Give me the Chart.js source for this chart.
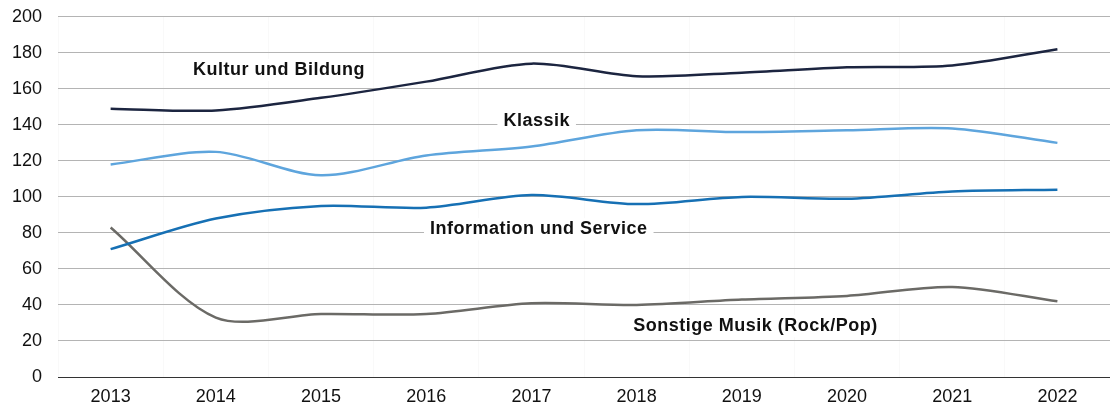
<!DOCTYPE html>
<html>
<head>
<meta charset="utf-8">
<script src="https://cdn.jsdelivr.net/npm/chart.js@4/dist/chart.umd.min.js"></script>
<style>
  html, body { margin: 0; padding: 0; background: #fff; }
  #wrap { width: 1110px; height: 408px; position: relative; overflow: hidden; }
  #inner { position: absolute; left: 0; top: -10px; width: 1110px; height: 418px; }
</style>
</head>
<body>
<div id="wrap"><div id="inner"><canvas id="myChart"></canvas></div></div>
<script>
const years = ['2013', '2014', '2015', '2016', '2017', '2018', '2019', '2020', '2021', '2022'];

const kulturBildung = [149, 148, 155, 164, 174, 167, 169, 172, 173, 182];
const klassik = [118, 125, 112, 123, 128, 137, 136, 137, 138, 130];
const infoService = [71, 88, 95, 94, 101, 96, 100, 99, 103, 104];
const sonstigeMusik = [83, 33, 35, 35, 41, 40, 43, 45, 50, 42];

const seriesNames = ['Kultur und Bildung', 'Klassik', 'Information und Service', 'Sonstige Musik (Rock/Pop)'];
const yTicks = [0, 20, 40, 60, 80, 100, 120, 140, 160, 180, 200];

// where the inline labels sit, in axis units (category index, value)
const labelAnchors = [
    { x: 1.6, y: 170.5 },
    { x: 4.05, y: 142.3 },
    { x: 4.07, y: 82 },
    { x: 6.13, y: 28.3 },
];

const colors = ['#1c2540', '#5ea5dd', '#1670b4', '#6b6a66'];
const fontFamily = '"Liberation Sans", Arial, sans-serif';

const inlineLabels = {
    id: 'inlineLabels',
    afterDatasetsDraw(chart) {
        const { ctx, scales } = chart;
        ctx.save();
        ctx.letterSpacing = '0.5px';
        ctx.font = 'bold 18px ' + fontFamily;
        ctx.textAlign = 'center';
        ctx.textBaseline = 'middle';
        seriesNames.forEach((name, i) => {
            const px = scales.x.getPixelForValue(labelAnchors[i].x);
            const py = scales.y.getPixelForValue(labelAnchors[i].y);
            const w = ctx.measureText(name).width;
            ctx.fillStyle = '#fff';
            ctx.fillRect(px - w / 2 - 6, py - 11, w + 12, 22);
            ctx.fillStyle = '#111';
            ctx.fillText(name, px, py);
        });
        ctx.restore();
    }
};

const data = {
    labels: years,
    datasets: [
        { label: seriesNames[0], data: kulturBildung, borderColor: colors[0] },
        { label: seriesNames[1], data: klassik, borderColor: colors[1] },
        { label: seriesNames[2], data: infoService, borderColor: colors[2] },
        { label: seriesNames[3], data: sonstigeMusik, borderColor: colors[3] },
    ].map(d => Object.assign(d, {
        borderWidth: 2.5,
        tension: 0.3,
        pointRadius: 0,
        fill: false,
    })),
};

const options = {
    responsive: true,
    maintainAspectRatio: false,
    animation: false,
    layout: { padding: { top: 0, right: 0, left: -4, bottom: 0 } },
    plugins: {
        legend: { display: false },
        tooltip: { enabled: false },
    },
    scales: {
        x: {
            offset: true,
            afterFit(axis) {
                axis.height = 31;
            },
            grid: {
                offset: true,
                color: 'rgba(0,0,0,0.025)',
                drawTicks: false,
            },
            border: { display: true, color: '#333', width: 1 },
            ticks: {
                color: '#111',
                padding: 9,
                font: { size: 18, family: fontFamily },
            },
        },
        y: {
            min: 0,
            max: 200,
            afterBuildTicks(axis) {
                axis.ticks = yTicks.map(v => ({ value: v }));
            },
            grid: {
                color: ctx => ctx.tick.value === 0 ? '#333' : '#b4b4b4',
                drawTicks: false,
            },
            border: { display: false },
            ticks: {
                color: '#111',
                padding: 16,
                font: { size: 18, family: fontFamily },
            },
        },
    },
};

const ctx = document.getElementById('myChart').getContext('2d');
ctx.letterSpacing = '1px';
const myChart = new Chart(ctx, {
    type: 'line',
    data: data,
    options: options,
    plugins: [inlineLabels],
});
</script>
</body>
</html>
